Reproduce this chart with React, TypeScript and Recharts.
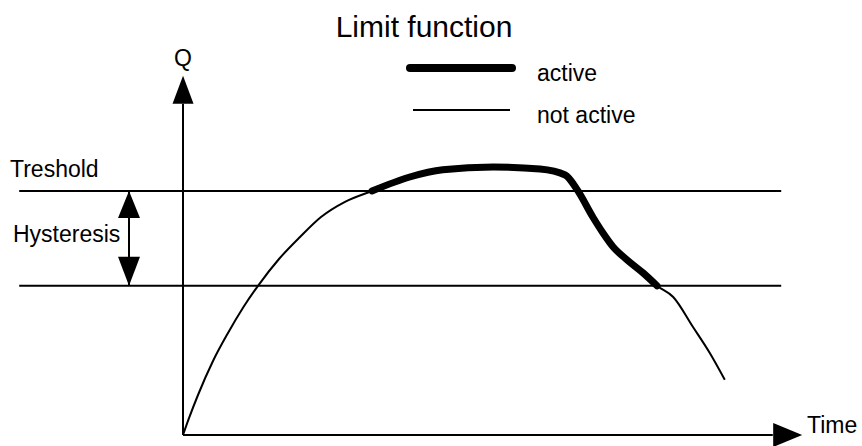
import { LineChart, Line, XAxis, YAxis, ReferenceLine, ReferenceDot } from "recharts";

// time axis 0..100, Q axis 0..100
const time = [0, 1, 2.5, 5, 7.5, 10, 12.5, 16, 19.5, 23, 27, 31.5, 37.8, 43.3, 51.7, 59.5, 63.7, 65.7, 68.3, 70, 71.7, 74, 76.7, 79, 81.7, 85, 87.8, 90.3];
const qValues = [0, 4.2, 10, 18.5, 25.5, 31.8, 37.3, 44, 49.5, 54.5, 58.3, 61, 64.5, 66.3, 67, 66.5, 65, 61.3, 54.5, 50.5, 47, 43.8, 40.5, 37.3, 34.5, 27, 20.5, 13.8];
const activeFrom = 31.5;
const activeTo = 79;

const threshold = 61;
const hysteresisLow = 37.3;
const lineStart = -27.3;
const lineEnd = 99.7;
const hystX = -9;
const xAxisEnd = 98.3;
const xArrowTip = 103.2;
const yAxisEnd = 82.8;
const yArrowTip = 89.8;

const data = time.map((t, i) => ({
  t,
  q: qValues[i],
  active: t >= activeFrom && t <= activeTo ? qValues[i] : null,
}));

const font = "'Liberation Sans', Arial, sans-serif";

const arrow = (dir: "up" | "down" | "right", len: number, half: number) => (props: any) => {
  const { cx, cy } = props;
  let pts = "";
  if (dir === "up") pts = `${cx},${cy} ${cx - half},${cy + len} ${cx + half},${cy + len}`;
  if (dir === "down") pts = `${cx},${cy} ${cx - half},${cy - len} ${cx + half},${cy - len}`;
  if (dir === "right") pts = `${cx},${cy} ${cx - len},${cy - half} ${cx - len},${cy + half}`;
  return <polygon points={pts} fill="#000" />;
};

export default function App() {
  return (
    <div style={{ position: "absolute", left: 0, top: 0, width: 862, height: 446, background: "#fff" }}>
      <LineChart width={862} height={446} data={data} margin={{ top: 35, right: 79, bottom: 11, left: 183 }}>
        <XAxis type="number" dataKey="t" domain={[0, 100]} hide />
        <YAxis type="number" domain={[0, 100]} hide />
        <ReferenceLine ifOverflow="visible" stroke="#000" strokeWidth={2}
          segment={[{ x: lineStart, y: threshold }, { x: lineEnd, y: threshold }]} />
        <ReferenceLine ifOverflow="visible" stroke="#000" strokeWidth={2}
          segment={[{ x: lineStart, y: hysteresisLow }, { x: lineEnd, y: hysteresisLow }]} />
        <ReferenceLine ifOverflow="visible" stroke="#000" strokeWidth={2}
          segment={[{ x: 0, y: 0 }, { x: xAxisEnd, y: 0 }]} />
        <ReferenceLine ifOverflow="visible" stroke="#000" strokeWidth={2}
          segment={[{ x: 0, y: 0 }, { x: 0, y: yAxisEnd }]} />
        <ReferenceLine ifOverflow="visible" stroke="#000" strokeWidth={2}
          segment={[{ x: hystX, y: threshold }, { x: hystX, y: hysteresisLow }]} />
        <ReferenceDot ifOverflow="visible" x={xArrowTip} y={0} shape={arrow("right", 29, 12)} />
        <ReferenceDot ifOverflow="visible" x={0} y={yArrowTip} shape={arrow("up", 28, 10.5)} />
        <ReferenceDot ifOverflow="visible" x={hystX} y={threshold} shape={arrow("up", 27, 11)} />
        <ReferenceDot ifOverflow="visible" x={hystX} y={hysteresisLow} shape={arrow("down", 29, 11)} />
        <Line type="monotone" dataKey="q" name="not active" stroke="#000" strokeWidth={2} dot={false} isAnimationActive={false} />
        <Line type="monotone" dataKey="active" name="active" stroke="#000" strokeWidth={7} strokeLinecap="round" dot={false} connectNulls={false} isAnimationActive={false} />
      </LineChart>
      <svg width={862} height={446} style={{ position: "absolute", left: 0, top: 0, pointerEvents: "none" }}>
        <text x={424} y={37} textAnchor="middle" fontFamily={font} fontSize={30}>Limit function</text>
        <line x1={410} y1={68} x2={512} y2={68} stroke="#000" strokeWidth={8} strokeLinecap="round" />
        <text x={537} y={81} fontFamily={font} fontSize={23}>active</text>
        <line x1={413} y1={110} x2={510} y2={110} stroke="#000" strokeWidth={2} />
        <text x={537} y={123} fontFamily={font} fontSize={23}>not active</text>
        <text x={183} y={66} textAnchor="middle" fontFamily={font} fontSize={23}>Q</text>
        <text x={807} y={433} fontFamily={font} fontSize={23}>Time</text>
        <text x={10} y={177} fontFamily={font} fontSize={23}>Treshold</text>
        <text x={13} y={242} fontFamily={font} fontSize={23}>Hysteresis</text>
      </svg>
    </div>
  );
}
